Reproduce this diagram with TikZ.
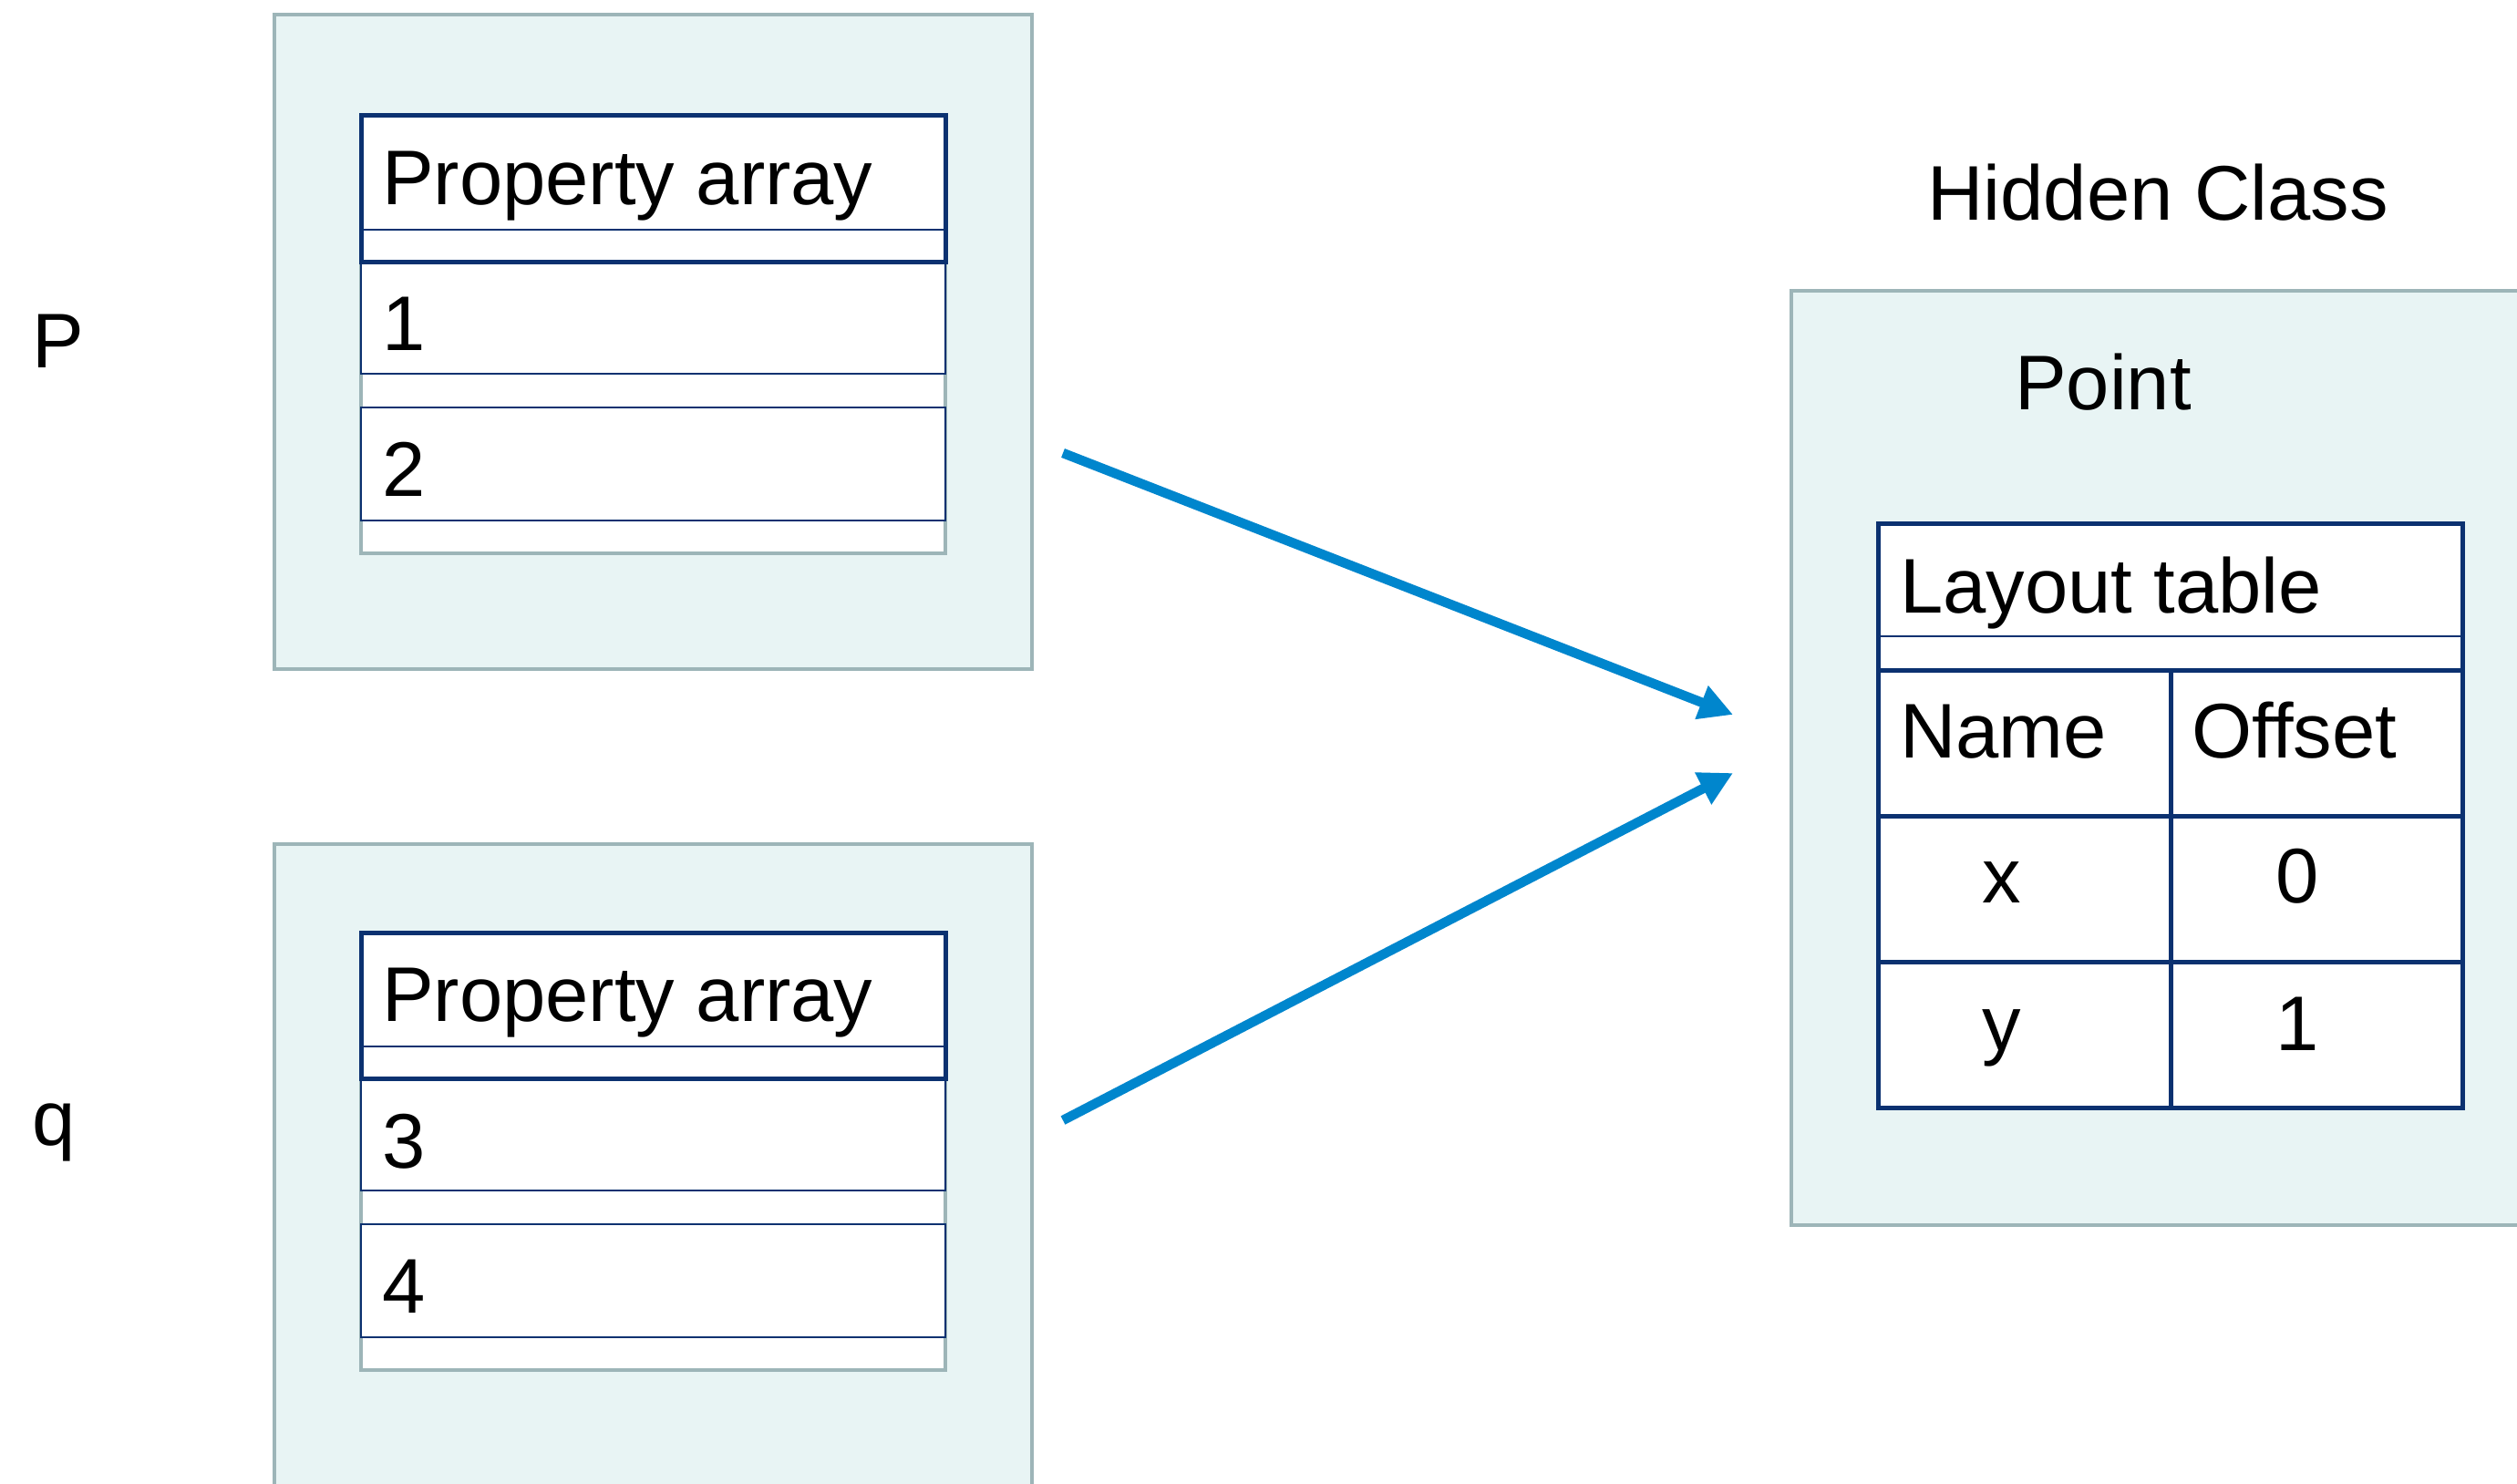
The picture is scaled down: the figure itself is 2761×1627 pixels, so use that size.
\documentclass[tikz,border=0pt]{standalone}
\usepackage{fontspec}
\setmainfont{Liberation Sans}
\usetikzlibrary{arrows.meta}
\definecolor{panelfill}{HTML}{E8F4F4}
\definecolor{panelline}{HTML}{9DB5B8}
\definecolor{navy}{HTML}{0B3170}
\definecolor{arrowblue}{HTML}{0086CD}
\begin{document}
\begin{tikzpicture}[x=1pt,y=-1pt,
  every node/.style={inner sep=0pt, outer sep=0pt, font=\fontsize{85}{100}\selectfont},
  panel/.style={draw=panelline, fill=panelfill, line width=4pt, anchor=north west},
  frame/.style={draw=panelline, fill=white, line width=4pt, anchor=north west},
  headbox/.style={draw=navy, line width=5pt, anchor=north west},
  cellbox/.style={draw=navy, fill=white, line width=2pt, anchor=north west},
  gridbox/.style={draw=navy, line width=5pt, anchor=north west},
  thinrule/.style={draw=navy, line width=1.6pt},
  label/.style={anchor=base west},
  ptr/.style={draw=arrowblue, line width=10.5pt, -{Triangle[length=37pt,width=37pt]}}
]
\useasboundingbox (0,0) rectangle (2761,1627);
\clip (0,0) rectangle (2761,1627);

% object p
\node[panel, minimum width=831pt, minimum height=718pt] (pPanel) at (301,16) {};
\node[frame, minimum width=641pt, minimum height=480pt] (pFrame) at (396,127) {};
\node[cellbox, minimum width=641pt, minimum height=123pt] (pCellA) at (396,287) {};
\node[cellbox, minimum width=641pt, minimum height=124pt] (pCellB) at (396,447) {};
\node[headbox, fill=white, minimum width=641pt, minimum height=160pt] (pHead) at (396,127) {};
\draw[thinrule] (pHead.west |- 0,252) -- (pHead.east |- 0,252);
\node[label] (pTitle) at (419,224) {Property array};
\node[label] (pValA) at (419,384) {1};
\node[label] (pValB) at (419,544) {2};
\node[label] (pName) at (35,403) {P};

% object q
\node[panel, minimum width=831pt, minimum height=900pt] (qPanel) at (301,926) {};
\node[frame, minimum width=641pt, minimum height=480pt] (qFrame) at (396,1023) {};
\node[cellbox, minimum width=641pt, minimum height=123pt] (qCellA) at (396,1183) {};
\node[cellbox, minimum width=641pt, minimum height=124pt] (qCellB) at (396,1343) {};
\node[headbox, fill=white, minimum width=641pt, minimum height=160pt] (qHead) at (396,1023) {};
\draw[thinrule] (qHead.west |- 0,1148) -- (qHead.east |- 0,1148);
\node[label] (qTitle) at (419,1120) {Property array};
\node[label] (qValA) at (419,1281) {3};
\node[label] (qValB) at (419,1440) {4};
\node[label] (qName) at (35,1256) {q};

% hidden class
\node[anchor=base] (hcTitle) at (2367,241) {Hidden Class};
\node[panel, minimum width=900pt, minimum height=1025pt] (hcPanel) at (1965,319) {};
\node[anchor=base] (hcName) at (2307,449) {Point};
\node[gridbox, fill=white, minimum width=641pt, minimum height=641pt] (tbl) at (2060,574) {};
\draw[thinrule] (2060,698) -- (2701,698);
\draw[navy, line width=5pt] (2060,735) -- (2701,735)
  (2060,895) -- (2701,895) (2060,1055) -- (2701,1055)
  (2381,735) -- (2381,1215);
\node[label] (tblTitle) at (2084,672) {Layout table};
\node[label] (colName) at (2084,831) {Name};
\node[label] (colOffset) at (2404,831) {Offset};
\node[anchor=base] (rowXName) at (2196,990) {x};
\node[anchor=base] (rowXOff) at (2520,990) {0};
\node[anchor=base] (rowYName) at (2196,1152) {y};
\node[anchor=base] (rowYOff) at (2520,1152) {1};

% pointers to the shared hidden class
\coordinate (pOut) at (1166,497);
\coordinate (qOut) at (1166,1229);
\coordinate (hcInA) at (1901,784);
\coordinate (hcInB) at (1901,848);
\draw[ptr] (pOut) -- (hcInA);
\draw[ptr] (qOut) -- (hcInB);
\end{tikzpicture}
\end{document}
